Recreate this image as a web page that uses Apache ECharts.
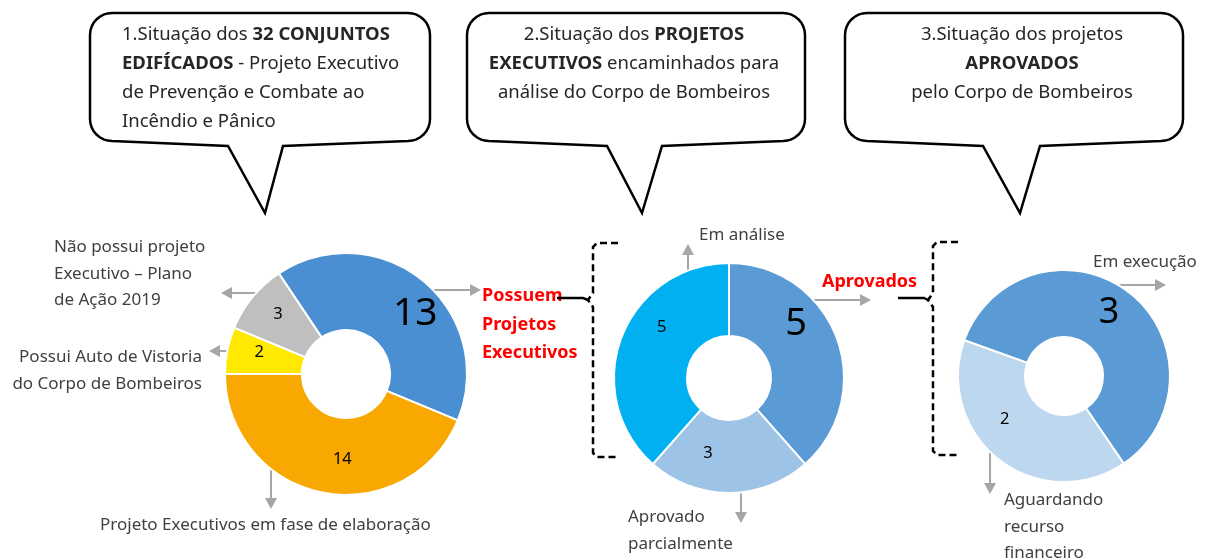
<!DOCTYPE html>
<html>
<head>
<meta charset="utf-8">
<script src="https://cdn.jsdelivr.net/npm/echarts@6/dist/echarts.min.js"></script>
<style>
  html, body { margin: 0; padding: 0; background: #fff; }
  #main { width: 1205px; height: 560px; }
</style>
</head>
<body>
<div id="main"></div>
<script>
// 1. conjuntos edificados
const names1 = ['Possuem Projetos Executivos', 'Projeto Executivos em fase de elaboração', 'Possui Auto de Vistoria do Corpo de Bombeiros', 'Não possui projeto Executivo – Plano de Ação 2019']
const values1 = [13, 14, 2, 3]
// 2. projetos executivos no Corpo de Bombeiros
const names2 = ['Aprovados', 'Aprovado parcialmente', 'Em análise']
const values2 = [5, 3, 5]
// 3. projetos aprovados
const names3 = ['Em execução', 'Aguardando recurso financeiro']
const values3 = [3, 2]

const FONT = '"Noto Sans", sans-serif'
const GREY = '#a6a6a6'
const TXT = '#404040'

const chart = echarts.init(document.getElementById('main'), null, { renderer: 'canvas' })

const makeData = (names, values, colors, labels) =>
  values.map((v, i) => ({
    name: names[i],
    value: v,
    itemStyle: { color: colors[i] },
    label: labels[i]
  }))

const pie = (center, radius, startAngle, data) => ({
  type: 'pie',
  center,
  radius,
  startAngle,
  clockwise: true,
  silent: true,
  animation: false,
  avoidLabelOverlap: false,
  itemStyle: { borderColor: '#fff', borderWidth: 2 },
  label: { show: true, position: 'inside', formatter: '{c}', color: '#000', fontFamily: FONT, fontSize: 16.5 },
  labelLine: { show: false },
  data
})

// arrow = grey line + small triangle head
const arrow = (x1, y1, x2, y2) => {
  const a = Math.atan2(y2 - y1, x2 - x1)
  const len = 11, w = 6
  const bx = x2 - len * Math.cos(a), by = y2 - len * Math.sin(a)
  return [
    { type: 'line', shape: { x1, y1, x2: bx, y2: by }, style: { stroke: GREY, lineWidth: 2 }, silent: true },
    {
      type: 'polygon', silent: true,
      shape: { points: [[x2, y2], [bx - w * Math.sin(a), by + w * Math.cos(a)], [bx + w * Math.sin(a), by - w * Math.cos(a)]] },
      style: { fill: GREY }
    }
  ]
}

// speech bubble outline
const bubble = (x0, y0, x1, y1, r, tl, tr, tip) => {
  const pts = []
  const arc = (cx, cy, a0, a1) => {
    for (let k = 0; k <= 8; k++) {
      const a = a0 + (a1 - a0) * k / 8
      pts.push([cx + r * Math.cos(a), cy + r * Math.sin(a)])
    }
  }
  arc(x0 + r, y0 + r, Math.PI, 1.5 * Math.PI)
  arc(x1 - r, y0 + r, 1.5 * Math.PI, 2 * Math.PI)
  arc(x1 - r, y1 - r, 0, 0.5 * Math.PI)
  pts.push([tr, y1 + 5], tip, [tl, y1 + 5])
  arc(x0 + r, y1 - r, 0.5 * Math.PI, Math.PI)
  return {
    type: 'polygon', silent: true,
    shape: { points: pts },
    style: { fill: '#fff', stroke: '#000', lineWidth: 2.5 }
  }
}

const text = (x, y, str, extra) => ({
  type: 'text', x, y, silent: true,
  style: Object.assign({ text: str, fill: TXT, font: '17px ' + FONT, lineHeight: 26.5, verticalAlign: 'top' }, extra)
})

const BSIZE = 18.5
const richB = { b: { fontWeight: 'bold', fontSize: BSIZE, fontFamily: FONT, fill: '#262626', lineHeight: 29 } }
const bubbleText = (x, y, str, align) => ({
  type: 'text', x, y, silent: true,
  style: { text: str, rich: richB, fill: '#262626', fontSize: BSIZE, fontFamily: FONT, lineHeight: 29, align, verticalAlign: 'top' }
})

const dashed = (pts) => ({ type: 'polyline', silent: true, shape: { points: pts }, style: { stroke: '#000', lineWidth: 2.5, lineDash: [7, 4], fill: null } })
const solid = (pts) => ({ type: 'polyline', silent: true, shape: { points: pts }, style: { stroke: '#000', lineWidth: 2.5, fill: null } })

const graphics = [
  bubble(90, 13, 430, 141, 22, 228, 283, [265, 213]),
  bubble(467, 13, 805, 141, 22, 607, 662, [642, 213]),
  bubble(845, 13, 1183, 141, 22, 983, 1040, [1020, 213]),
  bubbleText(122, 20, '1.Situação dos {b|32 CONJUNTOS}\n{b|EDIFÍCADOS} - Projeto Executivo\nde Prevenção e Combate ao\nIncêndio e Pânico', 'left'),
  bubbleText(634, 20, '2.Situação dos {b|PROJETOS}\n{b|EXECUTIVOS} encaminhados para\nanálise do Corpo de Bombeiros', 'center'),
  bubbleText(1022, 20, '3.Situação dos projetos\n{b|APROVADOS}\npelo Corpo de Bombeiros', 'center'),

  text(54, 234, 'Não possui projeto\nExecutivo – Plano\nde Ação 2019'),
  text(202, 344, 'Possui Auto de Vistoria\ndo Corpo de Bombeiros', { align: 'right' }),
  text(100, 512, 'Projeto Executivos em fase de elaboração'),
  text(699, 222, 'Em análise'),
  text(628, 504, 'Aprovado\nparcialmente'),
  text(1093, 249, 'Em execução'),
  text(1004, 487, 'Aguardando\nrecurso\nfinanceiro'),

  text(482, 282, 'Possuem\nProjetos\nExecutivos', { fill: '#ff0000', font: 'bold 18px ' + FONT, lineHeight: 28.5 }),
  text(822, 269, 'Aprovados', { fill: '#ff0000', font: 'bold 18px ' + FONT }),

  dashed([[618, 243], [597, 243], [593, 247], [593, 293], [588, 300], [593, 307], [593, 453], [597, 457], [618, 457]]),
  solid([[557, 298], [583, 298], [588, 300]]),
  dashed([[958, 242], [937, 242], [933, 246], [933, 293], [928, 300], [933, 307], [933, 451], [937, 455], [958, 455]]),
  solid([[898, 298], [924, 298], [928, 300]]),

  ...arrow(417, 290, 481, 290),
  ...arrow(260, 293, 221, 293),
  ...arrow(248, 351, 209, 351),
  ...arrow(271, 459, 271, 509),
  ...arrow(688, 287, 688, 244),
  ...arrow(810, 300, 871, 300),
  ...arrow(741, 473, 741, 523),
  ...arrow(1102, 285, 1166, 285),
  ...arrow(990, 445, 990, 494)
]

chart.setOption({
  backgroundColor: '#fff',
  animation: false,
  series: [
    pie([346, 374], [44, 121], 123.75, makeData(names1, values1,
      ['#4a8fd1', '#f8a800', '#ffe900', '#bfbfbf'],
      [{ fontSize: 39, offset: [15, 6] }, { offset: [13, 1] }, { offset: [-3, -5] }, { offset: [-2, -5] }])),
    pie([729, 378], [42, 115], 90, makeData(names2, values2,
      ['#5b9bd5', '#9dc3e6', '#00b0f0'],
      [{ fontSize: 38, offset: [-9, -25] }, { offset: [-21, -6] }, { offset: [9, -22] }])),
    pie([1064, 376], [39, 106], 160.3, makeData(names3, values3,
      ['#5b9bd5', '#bdd7ee'],
      [{ fontSize: 36, offset: [-1, -4] }, { offset: [-13, -16] }]))
  ],
  graphic: { elements: graphics }
})
</script>
</body>
</html>
